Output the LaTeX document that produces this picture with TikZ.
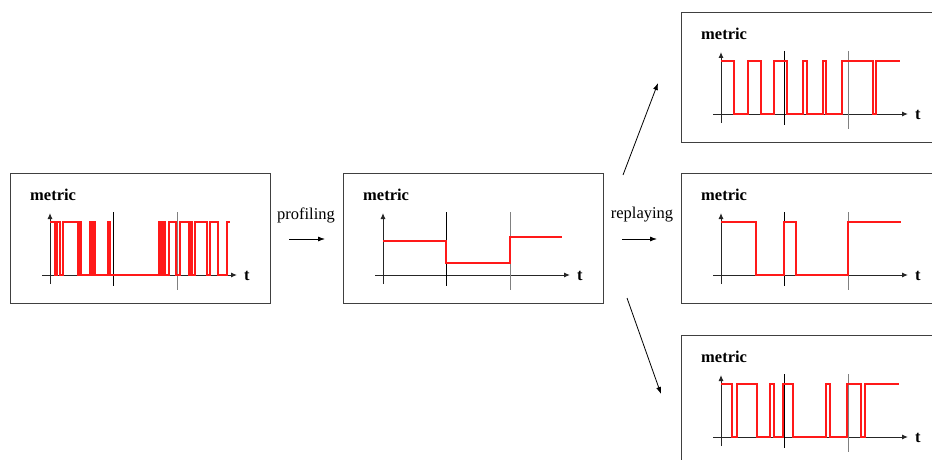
\documentclass[tikz,border=0pt]{standalone}
\usepackage{fontspec}
\setmainfont{Liberation Serif}
\usetikzlibrary{arrows.meta, positioning}

% one framed plot: frame, label, axes and the two phase cuts
\newcommand{\metricpanel}[1]{%
  \node[frame] (B#1) at (0,0) {};
  \node[lbl, anchor=west] (M#1) at (19,22) {metric};
  \draw[axis] (40,111) -- (40,40);
  \draw[axis] (32,102) -- (227,102);
  \node[lbl, anchor=west] (T#1) at (233,103) {t};
  \draw[cut] (103,39) -- (103,113);
  \draw[cut, black!50] (167,39) -- (167,117);
}

\begin{document}
\begin{tikzpicture}[x=1pt, y=-1pt, font=\fontsize{16.5}{19}\selectfont,
    frame/.style = {draw=black!75, line width=1pt, minimum width=260pt, minimum height=130pt, inner sep=0pt, anchor=north west},
    lbl/.style = {font=\fontsize{16.5}{19}\selectfont\bfseries, inner sep=1pt},
    axis/.style = {black!85, line width=1pt, -{Latex[length=6pt, width=5pt]}},
    cut/.style = {line width=1pt},
    sig/.style = {red!90!white, line width=1.1pt},
    flow/.style = {line width=0.8pt, -{Latex[length=7pt, width=5pt]}}]
  \useasboundingbox (0,0) rectangle (932,460);

  % recorded run
  \begin{scope}[shift={(10,173)}]
    \metricpanel{1}
    \draw[sig] (40,49) \foreach \a/\b in {45/47, 50/53, 68/70, 71/80, 82/84, 85/98, 100/149, 151/153, 155/159, 166/170, 179/181, 182/185, 197/200, 208/217} { -| (\a,102) -| (\b,49) } -- (220,49);
  \end{scope}

  % profiled phases
  \begin{scope}[shift={(343,173)}]
    \metricpanel{2}
    \draw[sig] (40,68) -| (103,90) -| (167,64) -- (219,64);
  \end{scope}

  % replayed runs
  \begin{scope}[shift={(681,12)}]
    \metricpanel{3}
    \draw[sig] (40,49) \foreach \a/\b in {53/67, 80/93, 106/122, 126/142, 145/161, 192/195} { -| (\a,102) -| (\b,49) } -- (219,49);
  \end{scope}
  \begin{scope}[shift={(681,173)}]
    \metricpanel{4}
    \draw[sig] (40,49) \foreach \a/\b in {75/103, 115/167} { -| (\a,102) -| (\b,49) } -- (220,49);
  \end{scope}
  \begin{scope}[shift={(681,335)}]
    \metricpanel{5}
    \draw[sig] (40,49) \foreach \a/\b in {51/56, 76/89, 93/102, 112/145, 149/166, 180/184} { -| (\a,102) -| (\b,49) } -- (218,49);
  \end{scope}

  % steps between the panels
  \node (prof) at (306,215) {profiling};
  \coordinate (p0) at (289,239); \coordinate (p1) at (325,239);
  \draw[flow] (p0) -- (p1);
  \node (repl) at (642,215) {replaying};
  \coordinate (r0) at (622,239); \coordinate (r1) at (657,239);
  \draw[flow] (r0) -- (r1);
  \coordinate (u0) at (623,175); \coordinate (u1) at (658,83);
  \draw[flow] (u0) -- (u1);
  \coordinate (d0) at (627,298); \coordinate (d1) at (661,394);
  \draw[flow] (d0) -- (d1);
\end{tikzpicture}
\end{document}
